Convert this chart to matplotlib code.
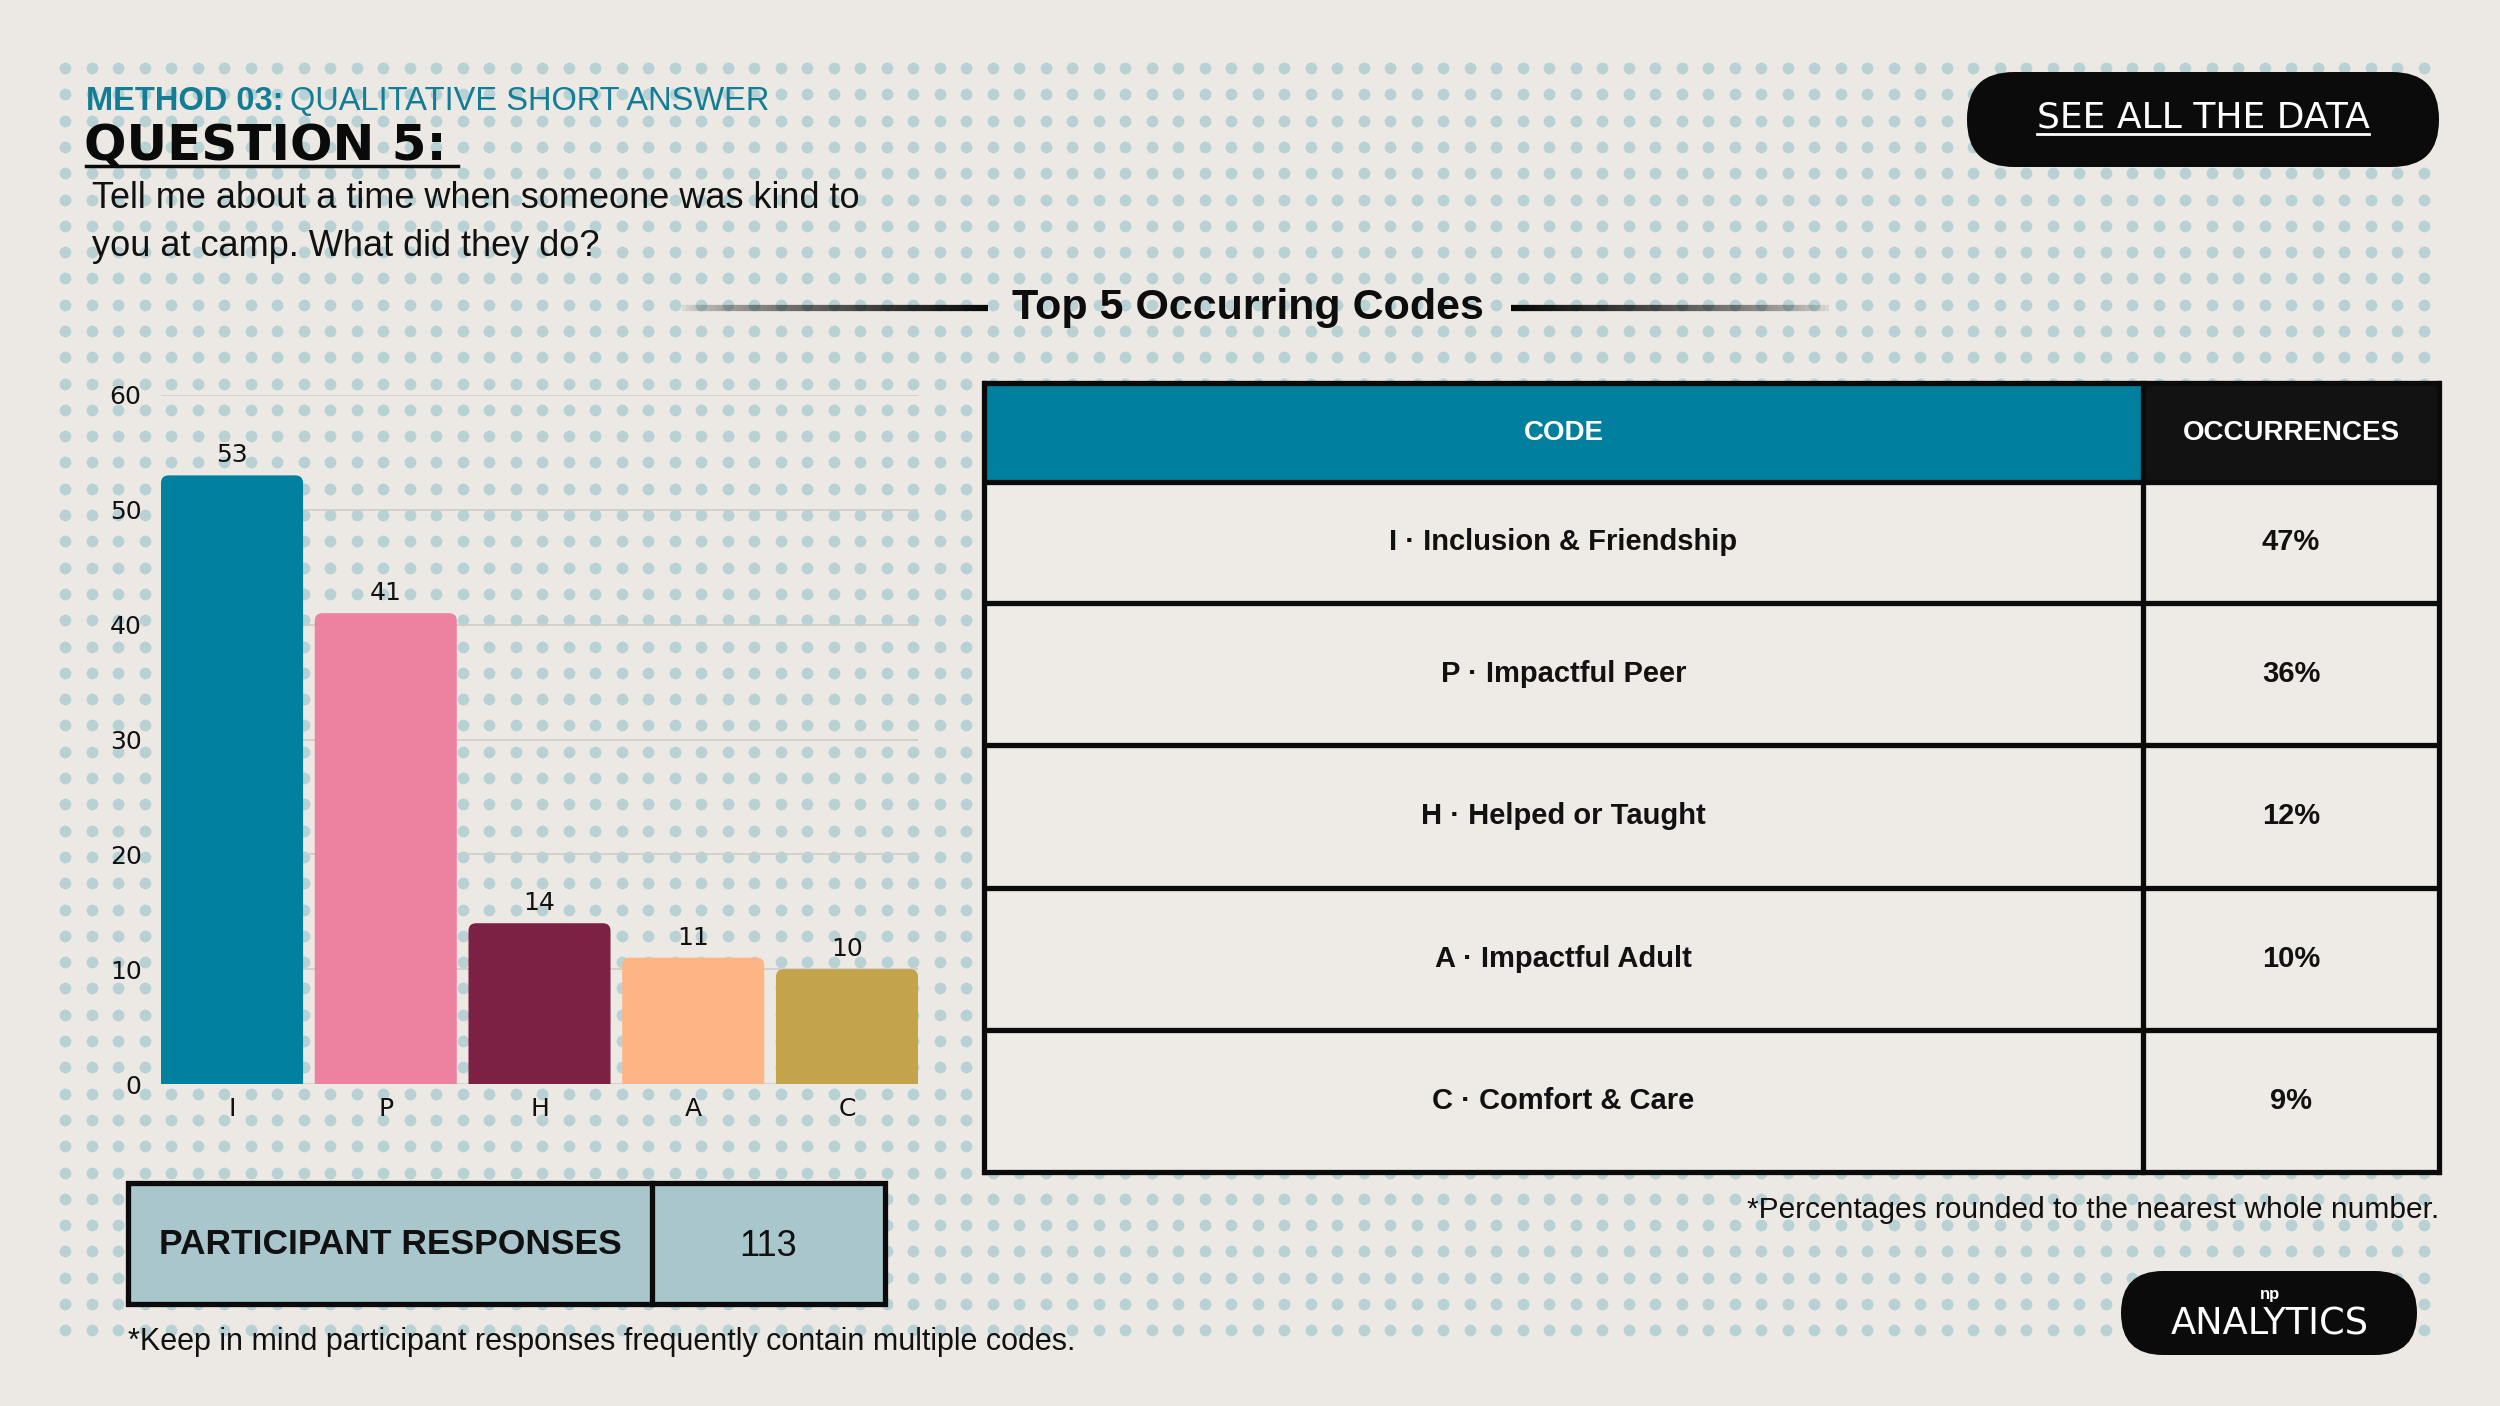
import numpy as np
import matplotlib
matplotlib.use('Agg')
import matplotlib.pyplot as plt
from matplotlib.patches import Rectangle, FancyBboxPatch
from matplotlib.collections import LineCollection

# ---- data ----
codes = ['I', 'P', 'H', 'A', 'C']
counts = [53, 41, 14, 11, 10]
code_names = ['Inclusion & Friendship', 'Impactful Peer', 'Helped or Taught',
              'Impactful Adult', 'Comfort & Care']
pct = [47, 36, 12, 10, 9]
bar_colors = ['#01809f', '#ec829f', '#7c2143', '#fdb585', '#c4a44a']
y_ticks = [0, 10, 20, 30, 40, 50, 60]
n_responses = 113

NARROW = ['Liberation Sans Narrow', 'Liberation Sans', 'DejaVu Sans']
BG = '#ece9e4'
TEAL = '#137d96'

fig = plt.figure(figsize=(25, 14.06), dpi=100, facecolor=BG)

# background axes in pixel coordinates (y down)
bg = fig.add_axes([0, 0, 1, 1], zorder=0)
bg.set_xlim(0, 2500)
bg.set_ylim(1406, 0)
bg.axis('off')
bg.set_facecolor(BG)

## dotted panel
xs = np.arange(65, 2436, 26.5)
ys = np.arange(68, 1342, 26.3)
gx, gy = np.meshgrid(xs, ys)
bg.scatter(gx.ravel(), gy.ravel(), s=72, c='#b3cfd3', linewidths=0, alpha=0.9, zorder=1)

## header texts
t1 = bg.text(86, 102, 'METHOD 03:', fontsize=23.5, fontweight='bold', color=TEAL,
             family=NARROW, va='center', ha='left', zorder=5)
fig.canvas.draw()
r = fig.canvas.get_renderer()
x_end = t1.get_window_extent(r).x1
bg.text(x_end + 6, 102, 'QUALITATIVE SHORT ANSWER', fontsize=23.5, color=TEAL,
        family=NARROW, va='center', ha='left', zorder=5)

bg.text(84, 146, 'QUESTION 5:', fontsize=36, fontweight='bold', color='#0a0a0a',
        family='DejaVu Sans', va='center', ha='left', zorder=5)
bg.plot([86, 458], [166, 166], color='#0a0a0a', lw=2.5, zorder=5)

bg.text(92, 198, 'Tell me about a time when someone was kind to', fontsize=26,
        color='#111111', family=NARROW, va='center', ha='left', zorder=5)
bg.text(92, 246, 'you at camp. What did they do?', fontsize=26,
        color='#111111', family=NARROW, va='center', ha='left', zorder=5)

## title with fading rules
bg.text(1248, 308, 'Top 5 Occurring Codes', fontsize=31, fontweight='bold',
        color='#0d0d0d', family=NARROW, va='center', ha='center', zorder=5)

def fade_line(x0, x1, y, rising):
    n = 80
    px = np.linspace(x0, x1, n + 1)
    segs = [[(px[i], y), (px[i + 1], y)] for i in range(n)]
    a = np.linspace(0, 1, n) ** 0.6
    if not rising:
        a = a[::-1]
    cols = [(0.03, 0.03, 0.03, v) for v in a]
    bg.add_collection(LineCollection(segs, colors=cols, linewidths=4.5, zorder=5))

fade_line(678, 988, 308, True)
fade_line(1511, 1833, 308, False)

## "see all the data" pill
bg.add_patch(FancyBboxPatch((1967, 72), 472, 95, boxstyle='round,pad=0,rounding_size=47',
                            fc='#0b0b0b', ec='none', zorder=5))
ts = bg.text(2203, 117, 'SEE ALL THE DATA', fontsize=26, color='white',
             family='DejaVu Sans', va='center', ha='center', zorder=6)
fig.canvas.draw()
ext = ts.get_window_extent(r)
bg.plot([ext.x0, ext.x1], [134, 134], color='white', lw=2, zorder=6)

## codes table
tx0, tx1, tx2 = 984, 2143, 2439
row_edges = [383, 482, 603, 745, 888, 1030, 1172]
bg.add_patch(Rectangle((tx0, row_edges[0]), tx1 - tx0, row_edges[1] - row_edges[0],
                       fc='#017f9e', ec='none', zorder=5))
bg.add_patch(Rectangle((tx1, row_edges[0]), tx2 - tx1, row_edges[1] - row_edges[0],
                       fc='#121212', ec='none', zorder=5))
bg.add_patch(Rectangle((tx0, row_edges[1]), tx2 - tx0, row_edges[-1] - row_edges[1],
                       fc='#eeebe6', ec='none', zorder=5))
for y in row_edges:
    bg.plot([tx0 - 2, tx2 + 2], [y, y], color='#0b0b0b', lw=3.8, zorder=6,
            solid_capstyle='butt')
for x in [tx0, tx1, tx2]:
    bg.plot([x, x], [row_edges[0], row_edges[-1]], color='#0b0b0b', lw=3.8, zorder=6)

hy = (row_edges[0] + row_edges[1]) / 2
bg.text((tx0 + tx1) / 2, hy, 'CODE', fontsize=20, fontweight='bold', color='white',
        family=NARROW, va='center', ha='center', zorder=7)
bg.text((tx1 + tx2) / 2, hy, 'OCCURRENCES', fontsize=20, fontweight='bold', color='white',
        family=NARROW, va='center', ha='center', zorder=7)
for i in range(len(codes)):
    cy = (row_edges[i + 1] + row_edges[i + 2]) / 2
    bg.text((tx0 + tx1) / 2, cy, f'{codes[i]} · {code_names[i]}', fontsize=21,
            fontweight='bold', color='#111111', family=NARROW, va='center',
            ha='center', zorder=7)
    bg.text((tx1 + tx2) / 2, cy, f'{pct[i]}%', fontsize=21, fontweight='bold',
            color='#111111', family=NARROW, va='center', ha='center', zorder=7)

bg.text(2439, 1210, '*Percentages rounded to the nearest whole number.', fontsize=21.5,
        color='#111111', family=NARROW, va='center', ha='right', zorder=7)

## participant responses box
bx0, bx1, bx2, by0, by1 = 128, 652, 885, 1183, 1304
bg.add_patch(Rectangle((bx0, by0), bx2 - bx0, by1 - by0, fc='#a8c6cc',
                       ec='#0b0b0b', lw=3.8, zorder=5))
bg.plot([bx1, bx1], [by0, by1], color='#0b0b0b', lw=3.8, zorder=6)
bg.text((bx0 + bx1) / 2, 1245, 'PARTICIPANT RESPONSES', fontsize=25.5, fontweight='bold',
        color='#111111', family=NARROW, va='center', ha='center', zorder=7)
bg.text((bx1 + bx2) / 2, 1247, str(n_responses), fontsize=26, color='#111111',
        family=NARROW, va='center', ha='center', zorder=7)
bg.text(128, 1342, '*Keep in mind participant responses frequently contain multiple codes.',
        fontsize=22, color='#111111', family=NARROW, va='center', ha='left', zorder=7)

## logo pill
bg.add_patch(FancyBboxPatch((2121, 1271), 296, 84, boxstyle='round,pad=0,rounding_size=42',
                            fc='#0b0b0b', ec='none', zorder=5))
bg.text(2270, 1294, 'np', fontsize=12, fontweight='bold', color='white',
        family=NARROW, va='center', ha='center', zorder=6)
bg.text(2270, 1324, 'ANALYTICS', fontsize=26.5, color='white',
        family='DejaVu Sans', va='center', ha='center', zorder=6)

# ---- bar chart ----
ax = fig.add_axes([161 / 2500, 1 - 1084 / 1406, 757 / 2500, (1084 - 395) / 1406], zorder=3)
ax.set_facecolor('none')
xpos = np.arange(len(codes))
bars = ax.bar(xpos, counts, width=0.924, color=bar_colors, zorder=3)
# rounded tops: swap each bar for a rounded patch of the same geometry
px_x = 757 / 4.924
px_y = 689 / 60
for b, v in zip(bars, counts):
    rp = FancyBboxPatch((b.get_x(), -2), b.get_width(), v + 2,
                        boxstyle='round,pad=0,rounding_size=0.05',
                        mutation_aspect=px_x / px_y, fc=b.get_facecolor(),
                        ec='none', zorder=3)
    ax.add_patch(rp)
    b.set_visible(False)
    ax.text(b.get_x() + b.get_width() / 2, v + 0.7, str(v), ha='center', va='bottom',
            fontsize=18, color='#111111', zorder=4)
ax.set_xlim(-0.462, len(codes) - 1 + 0.462)
ax.set_ylim(0, 60)
ax.set_yticks(y_ticks)
ax.set_xticks(xpos)
ax.set_xticklabels(codes)
ax.yaxis.grid(True, color='#cfcdc6', lw=1.2, zorder=0)
ax.set_axisbelow(True)
for s in ax.spines.values():
    s.set_visible(False)
ax.tick_params(axis='both', length=0, labelsize=18, labelcolor='#111111')
ax.tick_params(axis='y', pad=14)
ax.tick_params(axis='x', pad=9)

plt.savefig('out.png', dpi=100, facecolor=BG)
